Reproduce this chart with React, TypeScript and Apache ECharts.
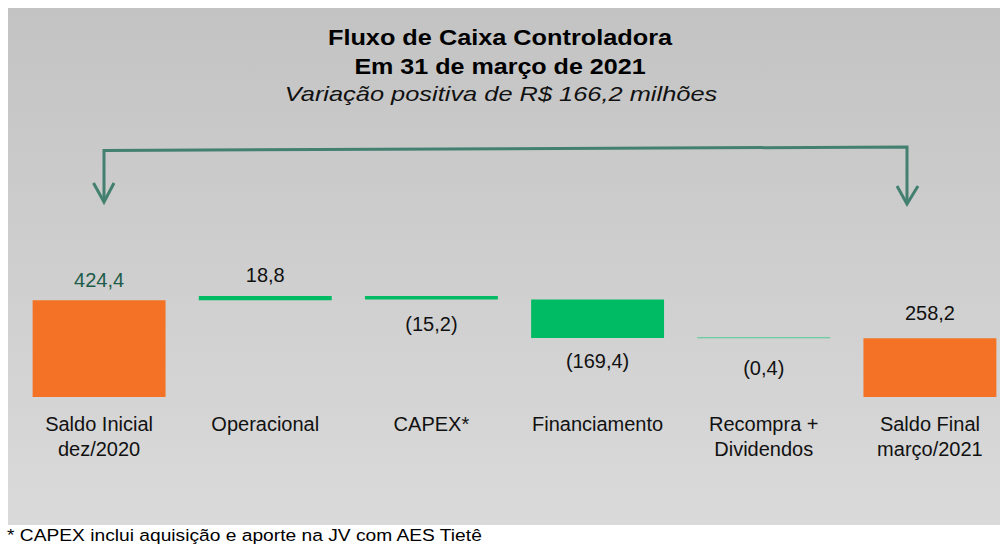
import React, { useEffect, useRef } from "react";
import * as echarts from "echarts";

const categories = [
  "Saldo Inicial\ndez/2020",
  "Operacional",
  "CAPEX*",
  "Financiamento",
  "Recompra +\nDividendos",
  "Saldo Final\nmarço/2021",
];
const steps = [424.4, 18.8, -15.2, -169.4, -0.4, 258.2];
const kinds = ["total", "delta", "delta", "delta", "delta", "total"];
const valueLabels = ["424,4", "18,8", "(15,2)", "(169,4)", "(0,4)", "258,2"];
const titleLines = ["Fluxo de Caixa Controladora", "Em 31 de março de 2021"];
const subtitle = "Variação positiva de R$ 166,2 milhões";
const footnote = "* CAPEX inclui aquisição e aporte na JV com AES Tietê";

// styling (not data)
const labelDistances = [10, 11, 15, 13, 20, 15];
const ORANGE = "#F37226";
const GREEN = "#00BB64";
const GREEN_THIN = "#4FCB90";
const ARROW = "#43806F";
const FONT = '"Liberation Sans", Arial, sans-serif';

export default function App() {
  const ref = useRef<HTMLDivElement>(null);

  useEffect(() => {
    if (!ref.current) return;
    const chart = echarts.init(ref.current, null, { renderer: "svg" });

    const base: number[] = [];
    const heights: number[] = [];
    let running = 0;
    steps.forEach((v, i) => {
      if (kinds[i] === "total") {
        base.push(0);
        heights.push(v);
        running = v;
      } else if (v >= 0) {
        base.push(running);
        heights.push(v);
        running += v;
      } else {
        running += v;
        base.push(running);
        heights.push(-v);
      }
    });

    const visData = heights.map((h, i) => {
      const isTotal = kinds[i] === "total";
      const up = isTotal || steps[i] >= 0;
      return {
        value: h,
        itemStyle: {
          color: isTotal ? ORANGE : h < 1 ? GREEN_THIN : GREEN,
        },
        label: {
          show: true,
          formatter: valueLabels[i],
          position: up ? "top" : "bottom",
          distance: labelDistances[i],
          color: i === 0 ? "#1D5C4A" : "#111111",
          fontSize: 20,
          fontFamily: FONT,
        },
      };
    });

    const option: any = {
      animation: false,
      backgroundColor: "#ffffff",
      grid: {
        left: 16,
        width: 997,
        top: 283,
        height: 114,
        outerBoundsMode: "none",
        containLabel: false,
      },
      xAxis: {
        type: "category",
        data: categories,
        axisLine: { show: false },
        axisTick: { show: false },
        splitLine: { show: false },
        axisLabel: {
          interval: 0,
          margin: 14,
          fontSize: 20,
          lineHeight: 25,
          color: "#111111",
          fontFamily: FONT,
        },
      },
      yAxis: {
        type: "value",
        min: 0,
        max: 500,
        show: false,
        splitLine: { show: false },
      },
      graphic: [
        {
          type: "rect",
          z: -100,
          silent: true,
          shape: { x: 8, y: 8, width: 992, height: 517 },
          style: {
            fill: new echarts.graphic.LinearGradient(0, 0, 0, 1, [
              { offset: 0, color: "#C3C3C3" },
              { offset: 1, color: "#DADADA" },
            ]),
          },
        },
        {
          type: "text",
          x: 500,
          y: 38,
          scaleX: 1.15,
          style: {
            text: titleLines[0],
            fontSize: 22,
            fontWeight: "bold",
            fontFamily: FONT,
            fill: "#000000",
            align: "center",
            verticalAlign: "middle",
          },
        },
        {
          type: "text",
          x: 500,
          y: 67,
          scaleX: 1.14,
          style: {
            text: titleLines[1],
            fontSize: 22,
            fontWeight: "bold",
            fontFamily: FONT,
            fill: "#000000",
            align: "center",
            verticalAlign: "middle",
          },
        },
        {
          type: "text",
          x: 501,
          y: 94,
          scaleX: 1.21,
          style: {
            text: subtitle,
            fontSize: 21,
            fontStyle: "italic",
            fontFamily: FONT,
            fill: "#111111",
            align: "center",
            verticalAlign: "middle",
          },
        },
        {
          type: "polyline",
          shape: {
            points: [
              [104, 201],
              [104, 150.5],
              [907, 147],
              [907, 203],
            ],
          },
          style: { stroke: ARROW, lineWidth: 3, fill: null, lineJoin: "miter" },
        },
        {
          type: "polyline",
          shape: {
            points: [
              [93.5, 183],
              [104, 202],
              [114, 183],
            ],
          },
          style: { stroke: ARROW, lineWidth: 3, fill: null },
        },
        {
          type: "polyline",
          shape: {
            points: [
              [897, 186],
              [907, 204],
              [918, 186],
            ],
          },
          style: { stroke: ARROW, lineWidth: 3, fill: null },
        },
        {
          type: "text",
          x: 7,
          y: 535,
          scaleX: 1.13,
          style: {
            text: footnote,
            fontSize: 17,
            fontFamily: FONT,
            fill: "#000000",
            align: "left",
            verticalAlign: "middle",
          },
        },
      ],
      series: [
        {
          type: "bar",
          stack: "w",
          silent: true,
          barWidth: "80%",
          itemStyle: { color: "transparent" },
          data: base,
        },
        {
          type: "bar",
          stack: "w",
          barWidth: "80%",
          barMinHeight: 1,
          data: visData,
        },
      ],
    };

    chart.setOption(option);
    return () => chart.dispose();
  }, []);

  return (
    <div
      ref={ref}
      style={{ position: "fixed", left: 0, top: 0, width: 1000, height: 545 }}
    />
  );
}
